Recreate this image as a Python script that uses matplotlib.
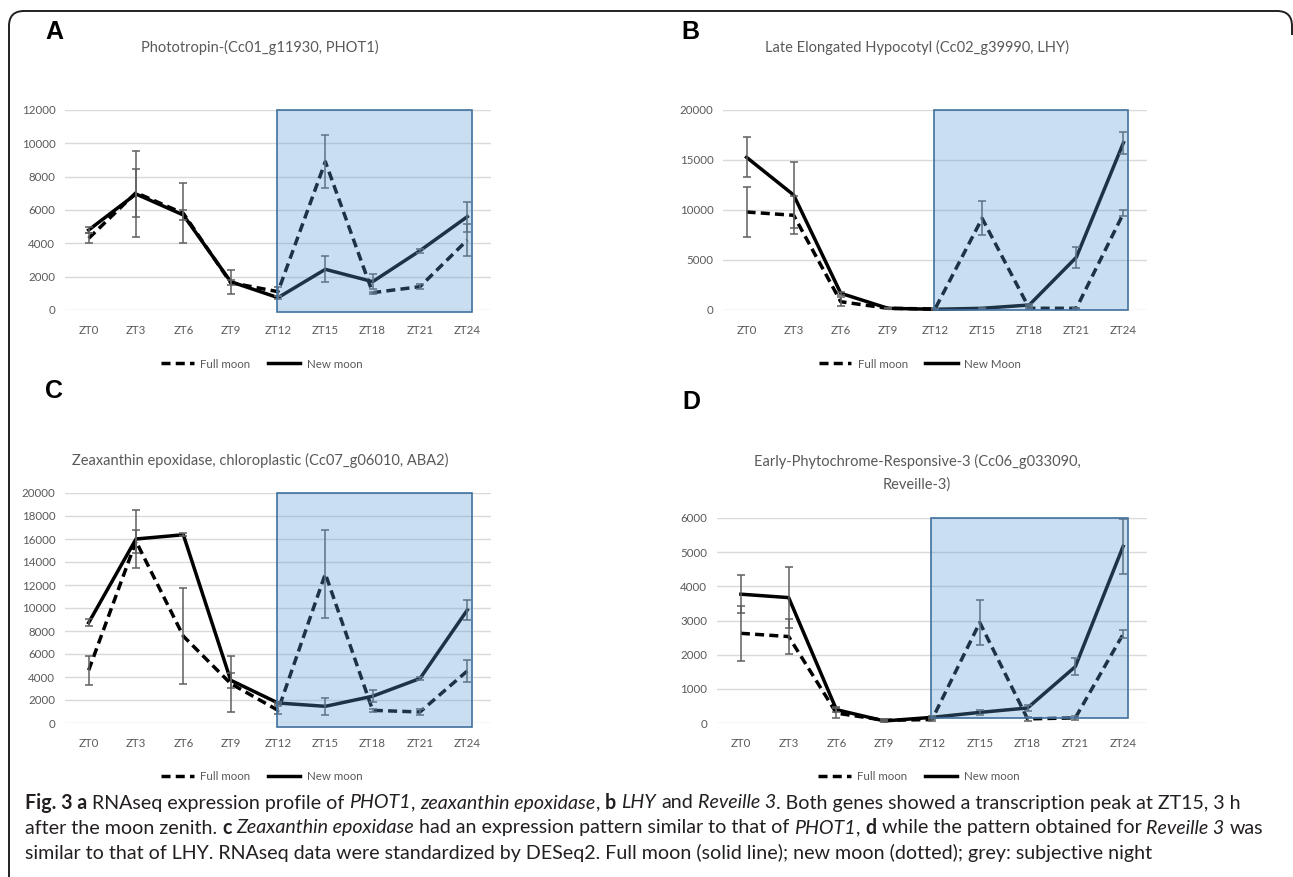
import re
import numpy as np
import matplotlib
matplotlib.use("Agg")
import matplotlib.pyplot as plt
from matplotlib.patches import Rectangle, PathPatch
from matplotlib.path import Path
from matplotlib.transforms import IdentityTransform

W, H = 1293, 877

zt_labels = ["ZT0", "ZT3", "ZT6", "ZT9", "ZT12", "ZT15", "ZT18", "ZT21", "ZT24"]

# A - PHOT1
a_full = [4300, 7040, 5800, 1640, 1100, 8900, 1040, 1400, 4200]
a_full_err = [300, 1430, 1800, 150, 260, 1600, 60, 150, 950]
a_new = [4800, 6960, 5700, 1700, 740, 2440, 1700, 3560, 5600]
a_new_err = [200, 2600, 280, 720, 100, 780, 460, 130, 900]

# B - LHY
b_full = [9800, 9470, 830, 170, 100, 9170, 170, 170, 9670]
b_full_err = [2530, 1900, 450, 50, 30, 1700, 50, 50, 300]
b_new = [15270, 11500, 1670, 170, 70, 170, 500, 5270, 16730]
b_new_err = [2000, 3330, 150, 50, 30, 50, 100, 1080, 1100]

# C - ABA2
c_full = [4590, 15800, 7550, 3430, 1100, 12970, 1100, 960, 4530]
c_full_err = [1270, 1000, 4200, 2430, 350, 3800, 150, 250, 950]
c_new = [8720, 16000, 16370, 3720, 1740, 1450, 2330, 3870, 9830]
c_new_err = [300, 2550, 150, 640, 100, 760, 500, 100, 870]

# D - Reveille-3
d_full = [2625, 2530, 290, 80, 100, 2940, 120, 150, 2600]
d_full_err = [800, 500, 150, 30, 30, 670, 50, 50, 120]
d_new = [3770, 3670, 390, 60, 165, 310, 440, 1650, 5170]
d_new_err = [560, 900, 80, 20, 30, 70, 100, 240, 810]

titles = ["Phototropin-(Cc01_g11930, PHOT1)",
          "Late Elongated Hypocotyl (Cc02_g39990, LHY)",
          "Zeaxanthin epoxidase, chloroplastic (Cc07_g06010, ABA2)",
          "Early-Phytochrome-Responsive-3 (Cc06_g033090,\nReveille-3)"]
new_labels = ["New moon", "New Moon", "New moon", "New moon"]

caption = [
    "**Fig. 3 a** RNAseq expression profile of *PHOT1*, *zeaxanthin epoxidase*, **b** *LHY* and *Reveille 3*. Both genes showed a transcription peak at ZT15, 3 h",
    "after the moon zenith. **c** *Zeaxanthin epoxidase* had an expression pattern similar to that of *PHOT1*, **d** while the pattern obtained for *Reveille 3* was",
    "similar to that of LHY. RNAseq data were standardized by DESeq2. Full moon (solid line); new moon (dotted); grey: subjective night",
]

plt.rcParams['font.family'] = ['Lato', 'DejaVu Sans']
GREY = '#595959'

fig = plt.figure(figsize=(W / 100, H / 100), dpi=100)


def add_ax(l, t, r, b):
    return fig.add_axes([l / W, 1 - b / H, (r - l) / W, (b - t) / H])


def panel(ax, full, full_err, new, new_err, ymax, ystep, rect_lo, new_label, leg_xy):
    x = np.arange(len(zt_labels))
    ax.set_xlim(-0.5, len(zt_labels) - 0.5)
    ax.set_ylim(0, ymax)
    ax.set_yticks(np.arange(0, ymax + 1, ystep))
    ax.set_xticks(x)
    ax.set_xticklabels(zt_labels)
    ax.tick_params(length=0, labelsize=8.3, labelcolor=GREY)
    ax.tick_params(axis='y', pad=7)
    ax.tick_params(axis='x', pad=11)
    for s in ax.spines.values():
        s.set_visible(False)
    ax.grid(axis='y', color='#d9d9d9', lw=1.0)
    ax.set_axisbelow(True)

    l1, = ax.plot(x, full, color='black', lw=2.5, ls=(0, (2.6, 1.5)), zorder=3, clip_on=False)
    l2, = ax.plot(x, new, color='black', lw=2.5, zorder=3, clip_on=False)
    ax.errorbar(x, full, yerr=full_err, fmt='none', ecolor='#5f5f5f', elinewidth=1.1,
                capsize=3, capthick=1.1, zorder=4, clip_on=False)
    ax.errorbar(x, new, yerr=new_err, fmt='none', ecolor='#5f5f5f', elinewidth=1.1,
                capsize=3, capthick=1.1, zorder=4, clip_on=False)

    # subjective night box
    ax.add_patch(Rectangle((3.97, rect_lo), 8.1 - 3.97, ymax - rect_lo, facecolor='#5b9bd5',
                           alpha=0.33, edgecolor='none', zorder=5, clip_on=False))
    ax.add_patch(Rectangle((3.97, rect_lo), 8.1 - 3.97, ymax - rect_lo, facecolor='none',
                           edgecolor='#41719c', lw=1.2, zorder=6, clip_on=False))

    ax.legend([l1, l2], ["Full moon", new_label], loc='center', ncol=2, frameon=False,
              bbox_to_anchor=(leg_xy[0] / W, 1 - leg_xy[1] / H), bbox_transform=fig.transFigure,
              fontsize=8.3, labelcolor=GREY, handlelength=2.8, handletextpad=0.6, columnspacing=1.5)


axA = add_ax(65, 110, 491, 310)
panel(axA, a_full, a_full_err, a_new, a_new_err, 12000, 2000, -120, new_labels[0], (262, 364))
axB = add_ax(723, 110, 1147, 310)
panel(axB, b_full, b_full_err, b_new, b_new_err, 20000, 5000, 0, new_labels[1], (920, 364))
axC = add_ax(65, 493, 491, 723)
panel(axC, c_full, c_full_err, c_new, c_new_err, 20000, 2000, -350, new_labels[2], (262, 777))
axD = add_ax(717, 518, 1147, 723)
panel(axD, d_full, d_full_err, d_new, d_new_err, 6000, 1000, 150, new_labels[3], (919, 777))

# titles and panel letters
for t, (cx, cy) in zip(titles, [(260, 47), (917, 47), (260, 460), (917, 473)]):
    fig.text(cx, H - cy, t, transform=IdentityTransform(), ha='center', va='center',
             fontsize=10.5, color=GREY, linespacing=1.75)
for s, (lx, ly) in zip("ABCD", [(54, 32), (690, 32), (54, 391), (691, 402)]):
    fig.text(lx, H - ly, s, transform=IdentityTransform(), ha='center', va='center',
             fontsize=18, fontweight='bold', family='Liberation Sans')

# outer frame: left side, top, rounded top corners
rad = 15
verts = [(9, -5), (9, H - 11 - rad), (9, H - 11), (9 + rad, H - 11),
         (1292 - rad, H - 11), (1292, H - 11), (1292, H - 11 - rad), (1292, H - 35)]
codes = [Path.MOVETO, Path.LINETO, Path.CURVE3, Path.CURVE3,
         Path.LINETO, Path.CURVE3, Path.CURVE3, Path.LINETO]
fig.add_artist(PathPatch(Path(verts, codes), transform=IdentityTransform(), fill=False,
                         lw=1.4, edgecolor='#231f20'))

# caption, drawn run by run so bold/italic pieces line up
renderer = fig.canvas.get_renderer()
cap_y = [803, 828, 853]


def text_w(s, **kw):
    t = fig.text(0, 0, s, transform=IdentityTransform(), **kw)
    w = t.get_window_extent(renderer).width
    t.remove()
    return w


def draw_caption(size):
    arts = []
    space = text_w("x x", fontsize=size) - text_w("xx", fontsize=size)
    ends = []
    for line, yy in zip(caption, cap_y):
        xcur = 25
        for chunk in re.split(r'(\*\*.*?\*\*|\*.*?\*)', line):
            if not chunk:
                continue
            weight, style = 'normal', 'normal'
            if chunk.startswith('**'):
                chunk, weight = chunk[2:-2], 'bold'
            elif chunk.startswith('*'):
                chunk, style = chunk[1:-1], 'italic'
            if chunk.startswith(' '):
                xcur += space
            body = chunk.strip()
            if body:
                t = fig.text(xcur, H - yy, body, transform=IdentityTransform(), fontsize=size,
                             fontweight=weight, fontstyle=style, va='center', color='#231f20')
                xcur += t.get_window_extent(renderer).width
                arts.append(t)
            if chunk.endswith(' ') and body:
                xcur += space
        ends.append(xcur)
    return arts, ends


arts, ends = draw_caption(12)
for a in arts:
    a.remove()
draw_caption(12 * (1235 - 25) / (ends[0] - 25))

fig.savefig("out.png", dpi=100)
